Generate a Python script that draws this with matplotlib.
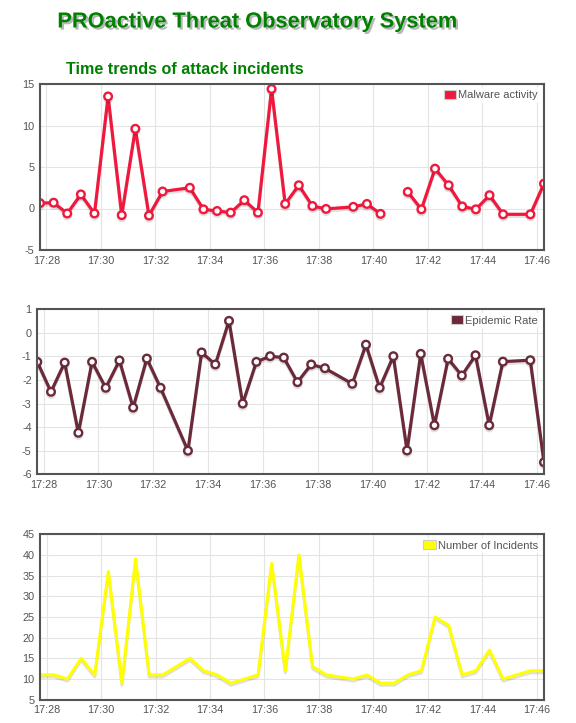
import datetime as dt
import numpy as np
import matplotlib
matplotlib.use('Agg')
import matplotlib.pyplot as plt
import matplotlib.dates as mdates
import matplotlib.patheffects as pe
from matplotlib.patches import Patch

# 30 s slots starting 17:27:46; slots 10, 22 and 35 have no sample
inicio = dt.datetime(2020, 1, 1, 17, 27, 46)
slots = [0, 1, 2, 3, 4, 5, 6, 7, 8, 9, 11, 12, 13, 14, 15, 16, 17, 18, 19,
         20, 21, 23, 24, 25, 26, 27, 28, 29, 30, 31, 32, 33, 34, 36, 37]
tiempos = [inicio + dt.timedelta(seconds=30 * s) for s in slots]

malware = [0.65, 0.7, -0.6, 1.7, -0.6, 13.5, -0.8, 9.6, -0.85, 2.05,
           2.5, -0.1, -0.3, -0.5, 1.0, -0.5, 14.4, 0.55, 2.8,
           0.3, -0.05, 0.2, 0.55, -0.65, np.nan, 2.0, -0.1, 4.8, 2.8, 0.25,
           -0.1, 1.6, -0.7, -0.7, 3.0]

epidemia = [-1.23, -2.5, -1.26, -4.24, -1.23, -2.33, -1.17, -3.17, -1.09, -2.33,
            -5.0, -0.83, -1.34, 0.51, -3.0, -1.23, -0.99, -1.05, -2.09,
            -1.34, -1.5, -2.16, -0.5, -2.33, -0.99, -4.99, -0.89, -3.92, -1.1, -1.81,
            -0.95, -3.92, -1.22, -1.16, -5.49]

incidentes = [11, 11, 10, 15, 11, 36, 9, 39, 11, 11,
              15, 12, 11, 9, 10, 11, 38, 12, 40,
              13, 11, 10, 11, 9, 9, 11, 12, 25, 23, 11,
              12, 17, 10, 12, 12]

W, H = 576, 723
gris = '#545454'

plt.rcParams['font.family'] = ['Liberation Sans', 'DejaVu Sans']
plt.rcParams['axes.unicode_minus'] = False
fig = plt.figure(figsize=(W / 100, H / 100), dpi=100)

titulo = fig.text(257 / W, 1 - 22 / H, 'PROactive Threat Observatory System',
                  ha='center', va='center', fontsize=15.7, fontweight='bold', color='#008000')
titulo.set_path_effects([pe.withSimplePatchShadow(offset=(1.5, -1.5), shadow_rgbFace='#888888', alpha=0.6)])
fig.text(66 / W, 1 - 69 / H, 'Time trends of attack incidents',
         ha='left', va='center', fontsize=11.6, fontweight='bold', color='#008000')


def crear_eje(left, right, top, bottom):
    return fig.add_axes([left / W, 1 - bottom / H, (right - left) / W, (bottom - top) / H])


def graficar(ax, valores, color, etiqueta, ylim, yticks, marcas=True):
    sombra = [pe.SimpleLineShadow(offset=(0, -1.5), shadow_color='k', alpha=0.12), pe.Normal()]
    if marcas:
        ax.plot(tiempos, valores, color=color, lw=2.3, marker='o', ms=5.5,
                mfc='white', mec=color, mew=1.7, path_effects=sombra)
    else:
        ax.plot(tiempos, valores, color=color, lw=2.2, path_effects=sombra)
    ax.set_xlim(tiempos[0], tiempos[-1])
    ax.set_ylim(*ylim)
    ax.set_yticks(yticks)
    ax.xaxis.set_major_locator(mdates.MinuteLocator(byminute=range(0, 60, 2)))
    ax.xaxis.set_major_formatter(mdates.DateFormatter('%H:%M'))
    ax.grid(True, color='#e4e4e4', lw=0.8)
    ax.set_axisbelow(True)
    ax.tick_params(length=0, labelsize=7.8, colors=gris, pad=4)
    for s in ax.spines.values():
        s.set_color(gris)
        s.set_linewidth(1.5)
    leg = ax.legend(handles=[Patch(facecolor=color, edgecolor='#cccccc', lw=0.8, label=etiqueta)],
                    loc='upper right', fontsize=8, frameon=True, handlelength=1.1,
                    handleheight=0.8, borderpad=0.25, handletextpad=0.2, borderaxespad=0.3,
                    labelcolor=gris)
    leg.get_frame().set_edgecolor('none')
    leg.get_frame().set_alpha(0.85)


ax1 = crear_eje(40, 544, 84, 250)
graficar(ax1, malware, '#f0193d', 'Malware activity', (-5, 15), [-5, 0, 5, 10, 15])

ax2 = crear_eje(37.3, 544, 309.3, 474.3)
graficar(ax2, epidemia, '#6b2a3a', 'Epidemic Rate', (-6, 1), [-6, -5, -4, -3, -2, -1, 0, 1])

ax3 = crear_eje(40.3, 544, 534.3, 699.7)
graficar(ax3, incidentes, '#ffff00', 'Number of Incidents', (5, 45), list(range(5, 50, 5)), marcas=False)

fig.savefig('out.png', dpi=100)
